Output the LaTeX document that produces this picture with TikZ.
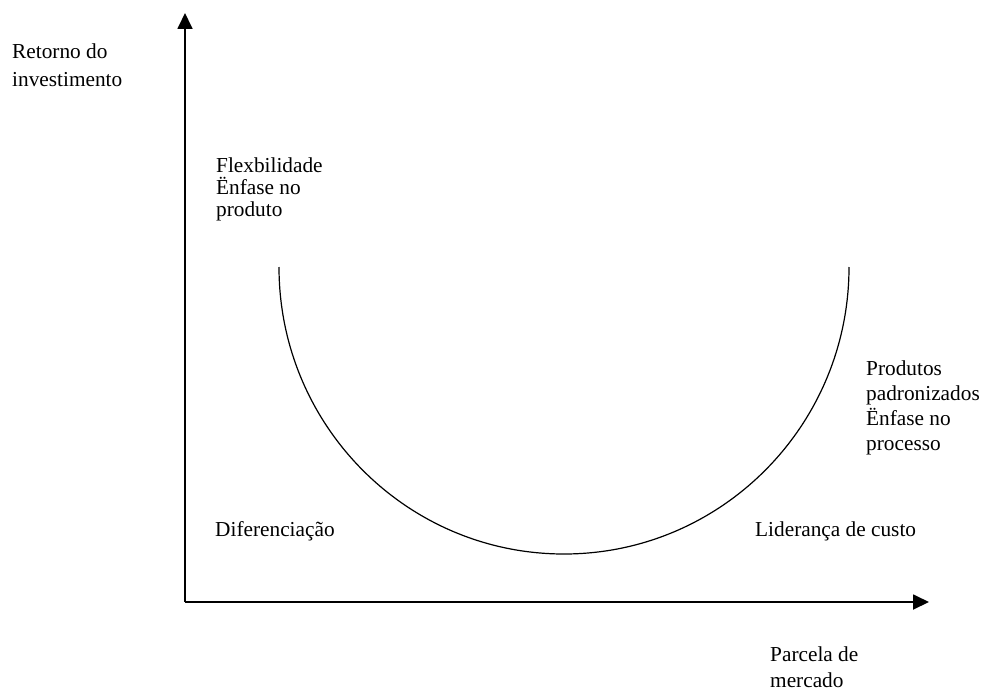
\documentclass[tikz,border=0pt]{standalone}
\usepackage{fontspec}
\setmainfont{Liberation Serif}
\usetikzlibrary{arrows.meta}
\tikzset{
  axis/.style={line width=1.8pt,-{Triangle[length=16pt,width=15pt]}},
  curve/.style={line width=1.2pt},
  lbl/.style={inner sep=0pt,anchor=base west,align=left},
}
\newcommand{\lblfont}[1]{\fontsize{21.3}{#1}\selectfont}
\begin{document}
\begin{tikzpicture}[x=1pt,y=1pt]
\useasboundingbox (0,0) rectangle (984,-690);
% axes
\coordinate (o) at (185,-602);
\coordinate (ytip) at (185,-13);
\coordinate (xtip) at (929,-602);
\draw[axis] (o) -- (ytip);
\draw[axis] (o) -- (xtip);
% U curve (semicircle)
\coordinate (cl) at (279,-267);
\draw[curve] (cl) arc[start angle=180,end angle=360,x radius=285,y radius=287];
% labels (anchor = baseline of the last line)
\node[lbl,font=\lblfont{28}] (yl) at (12,-87) {Retorno do\\investimento};
\node[lbl,font=\lblfont{22}] (flex) at (216,-216) {Flexbilidade\\Ënfase no\\produto};
\node[lbl,font=\lblfont{25}] (prod) at (866,-450) {Produtos\\padronizados\\Ënfase no\\processo};
\node[lbl,font=\lblfont{22}] (dif) at (215,-536) {Diferenciação};
\node[lbl,font=\lblfont{22}] (lid) at (755,-536) {Liderança de custo};
\node[lbl,font=\lblfont{26}] (xl) at (770,-687) {Parcela de\\mercado};
\end{tikzpicture}
\end{document}
